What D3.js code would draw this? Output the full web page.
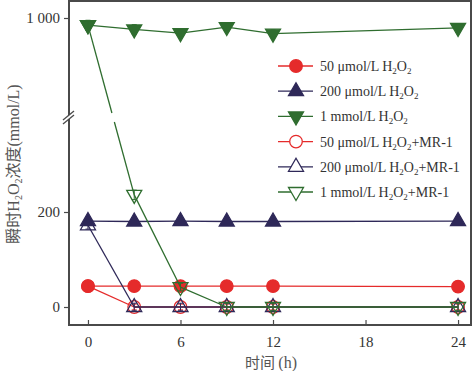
<!DOCTYPE html>
<html><head><meta charset="utf-8">
<script src="https://cdn.jsdelivr.net/npm/d3@7"></script>
<style>body{margin:0;background:#fff}svg{display:block}</style>
</head><body>
<svg id="c" width="474" height="371"></svg>
<script>
// ---- data ----
const times = [0, 3, 6, 9, 12, 24];
const h2o2_50 = [44, 44, 44, 44, 44, 43];
const h2o2_200 = [181, 180, 181, 180, 180, 181];
const h2o2_1m = [985, 976, 968, 981, 967, 979];
const mr_50 = [44, 0, 0, 0, 0, 0];
const mr_200 = [172, 0, 0, 0, 0, 0];
const mr_1m = [985, 236, 42, 0, 0, 0];
const err_50 = [8, 6, 6, 6, 6, 6];
const err_200 = [8, 8, 8, 8, 8, 8];
const err_1m = [10, 10, 8, 8, 8, 8];
const xTicks = [0, 6, 12, 18, 24];
const yTicksLow = [0, 200];
const yTicksHigh = [1000];
const seriesNames = ["50 μmol/L H2O2", "200 μmol/L H2O2", "1 mmol/L H2O2",
  "50 μmol/L H2O2+MR-1", "200 μmol/L H2O2+MR-1", "1 mmol/L H2O2+MR-1"];

const RED = "#e52b2b", PUR = "#2e2858", GRN = "#2f6d2f";
const series = [
  {name: seriesNames[0], v: h2o2_50, e: err_50, color: RED, shape: "circle", filled: true},
  {name: seriesNames[1], v: h2o2_200, e: err_200, color: PUR, shape: "up", filled: true},
  {name: seriesNames[2], v: h2o2_1m, e: err_1m, color: GRN, shape: "down", filled: true},
  {name: seriesNames[3], v: mr_50, e: err_50, color: RED, shape: "circle", filled: false},
  {name: seriesNames[4], v: mr_200, e: err_200, color: PUR, shape: "up", filled: false},
  {name: seriesNames[5], v: mr_1m, e: err_1m, color: GRN, shape: "down", filled: false}
];

const L = 69, R = 471, T = 1, B = 325;
const breakTop = 113, breakBot = 122;
const x = d3.scaleLinear().domain([-1.23, 24.84]).range([L, R]);
const yLow = d3.scaleLinear().domain([0, 200]).range([307, 212]);
const yHigh = d3.scaleLinear().domain([800, 1000]).range([113, 18]);
const y = v => v > 600 ? yHigh(v) : yLow(v);

const svg = d3.select("#c");
const AX = "#4a4a4a", TXT = "#333";
const serif = "'Liberation Serif','Times New Roman',serif";

function shapePath(shape) {
  if (shape === "circle") return d3.symbol(d3.symbolCircle, Math.PI * 6.3 * 6.3)();
  if (shape === "up") return "M0,-8.5L7.5,4.5L-7.5,4.5Z";
  return "M0,8.5L7.5,-4.5L-7.5,-4.5Z";
}

// lines + error bars + markers
series.forEach(s => {
  const pts = times.map((t, i) => [x(t), y(s.v[i]), s.v[i], s.e[i]]);
  const g = svg.append("g");
  for (let i = 0; i < pts.length - 1; i++) {
    const a = pts[i], b = pts[i + 1];
    const cross = (a[2] > 600) !== (b[2] > 600);
    const segs = [];
    if (cross) {
      const top = a[1] < b[1] ? a : b, bot = a[1] < b[1] ? b : a;
      const f = yy => top[0] + (bot[0] - top[0]) * (yy - top[1]) / (bot[1] - top[1]);
      segs.push([top, [f(breakTop), breakTop]]);
      segs.push([[f(breakBot), breakBot], bot]);
    } else segs.push([a, b]);
    segs.forEach(sg => g.append("line")
      .attr("x1", sg[0][0]).attr("y1", sg[0][1]).attr("x2", sg[1][0]).attr("y2", sg[1][1])
      .attr("stroke", s.color).attr("stroke-width", 1.3));
  }
  pts.forEach(p => {
    const e = (s.v[0] > 600 ? yHigh(800) - yHigh(800 + p[3]) : yLow(0) - yLow(p[3]));
    g.append("path").attr("d", `M${p[0]},${p[1] - e}V${p[1] + e}M${p[0] - 2.5},${p[1] - e}h5M${p[0] - 2.5},${p[1] + e}h5`)
      .attr("stroke", s.color).attr("stroke-width", 1).attr("fill", "none");
  });
  pts.forEach(p => {
    g.append("path").attr("d", shapePath(s.shape)).attr("transform", `translate(${p[0]},${p[1]})`)
      .attr("fill", s.filled ? s.color : "none").attr("stroke", s.color).attr("stroke-width", 1.3);
  });
});

// frame
svg.append("rect").attr("x", L).attr("y", T).attr("width", R - L).attr("height", B - T)
  .attr("fill", "none").attr("stroke", AX).attr("stroke-width", 2);

// x axis
const xa = svg.append("g").attr("transform", `translate(0,${B})`)
  .call(d3.axisBottom(x).tickValues(xTicks).tickSize(-5).tickSizeOuter(0).tickPadding(11));
xa.select(".domain").remove();
xa.selectAll(".tick line").attr("stroke", AX).attr("stroke-width", 1.2);
xa.selectAll(".tick text").attr("font-family", serif).attr("font-size", 15).attr("fill", TXT);

// y axes
function yAxis(scale, vals) {
  const ga = svg.append("g").attr("transform", `translate(${L},0)`)
    .call(d3.axisLeft(scale).tickValues(vals).tickSize(5).tickSizeOuter(0).tickPadding(4)
      .tickFormat(d => d >= 1000 ? d3.format(",")(d).replace(",", " ") : d));
  ga.select(".domain").remove();
  ga.selectAll(".tick line").attr("stroke", AX).attr("stroke-width", 1.2);
  ga.selectAll(".tick text").attr("font-family", serif).attr("font-size", 15).attr("fill", TXT);
}
yAxis(yLow, yTicksLow);
yAxis(yHigh, yTicksHigh);

// axis break marks
svg.append("rect").attr("x", L - 2).attr("y", 115).attr("width", 4).attr("height", 4).attr("fill", "#fff");
[0, 4].forEach(o => svg.append("line").attr("x1", L - 6).attr("y1", 120 + o).attr("x2", L + 5).attr("y2", 111 + o)
  .attr("stroke", AX).attr("stroke-width", 1.3));

// axis titles
svg.append("text").attr("x", 271).attr("y", 368).attr("text-anchor", "middle")
  .attr("font-family", "'Noto Sans CJK SC',sans-serif").attr("font-size", 15).attr("fill", "#555")
  .text("时间 ").append("tspan").attr("font-family", serif).attr("font-size", 16).text("(h)");

const yt = svg.append("text").attr("transform", "translate(19,164) rotate(-90)").attr("text-anchor", "middle")
  .attr("font-size", 16).attr("fill", "#555").attr("font-family", "'Noto Sans CJK SC',sans-serif");
yt.append("tspan").text("瞬时");
yt.append("tspan").attr("font-family", serif).text("H");
yt.append("tspan").attr("font-family", serif).attr("font-size", 10).attr("dy", 3).text("2");
yt.append("tspan").attr("font-family", serif).attr("dy", -3).text("O");
yt.append("tspan").attr("font-family", serif).attr("font-size", 10).attr("dy", 3).text("2");
yt.append("tspan").attr("dy", -3).text("浓度");
yt.append("tspan").attr("font-family", serif).text("(mmol/L)");

// legend
const lg = svg.append("g");
series.forEach((s, i) => {
  const yy = 66 + i * 25.2;
  lg.append("line").attr("x1", 278).attr("x2", 313).attr("y1", yy).attr("y2", yy)
    .attr("stroke", s.color).attr("stroke-width", 1.3);
  lg.append("path").attr("d", shapePath(s.shape)).attr("transform", `translate(296,${yy})`)
    .attr("fill", s.filled ? s.color : "#fff").attr("stroke", s.color).attr("stroke-width", 1.3);
  const t = lg.append("text").attr("x", 320).attr("y", yy + 5).attr("font-family", serif)
    .attr("font-size", 14).attr("fill", TXT);
  const parts = s.name.split("H2O2");
  t.append("tspan").text(parts[0] + "H");
  t.append("tspan").attr("font-size", 9).attr("dy", 3).text("2");
  t.append("tspan").attr("dy", -3).text("O");
  t.append("tspan").attr("font-size", 9).attr("dy", 3).text("2");
  t.append("tspan").attr("dy", -3).text(parts[1]);
});
</script>
</body></html>
